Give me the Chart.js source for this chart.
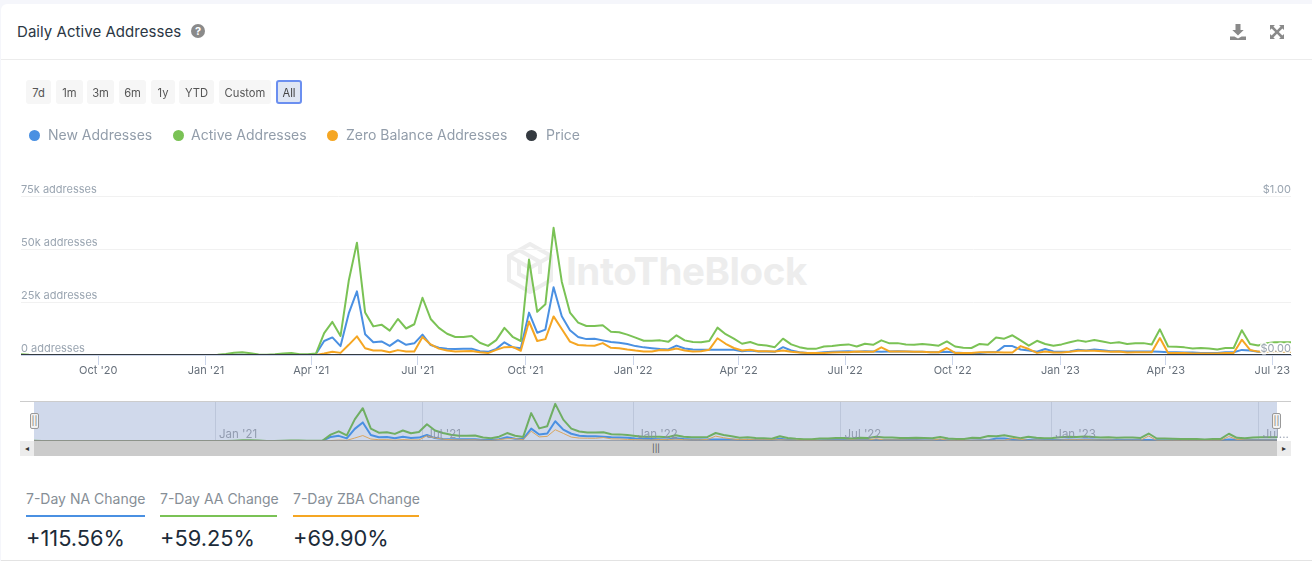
<!DOCTYPE html>
<html>
<head>
<meta charset="utf-8">
<title>Daily Active Addresses</title>
<script src="https://cdn.jsdelivr.net/npm/chart.js@4"></script>
<style>
  html, body { margin: 0; padding: 0; background: #f5f6fb; }
  body { width: 1312px; height: 561px; overflow: hidden; font-family: Inter, "Noto Sans", sans-serif; }
  #card { position: absolute; left: 1px; top: 4px; width: 1311px; height: 556px; background: #fff; border-radius: 6px 0 0 0; border-bottom: 1px solid #e3e3e3; }
  .abs { position: absolute; }
  #title { left: 17px; top: 23px; font-size: 15px; letter-spacing: .05px; color: #2b3744; line-height: 18px; white-space: nowrap; }
  #help { left: 191px; top: 24px; width: 14px; height: 14px; border-radius: 50%; background: #8a8a8a; color: #fff; font-size: 11px; font-weight: 700; line-height: 14px; text-align: center; }
  #rule { left: 1px; top: 59px; width: 1311px; height: 1px; background: #ececec; }
  .range { top: 80px; height: 24px; line-height: 26px; background: #f6f6f6; border-radius: 3px; color: #555; font-size: 11.2px; text-align: center; box-sizing: border-box; }
  .range.on { background: #dfe6f3; border: 2px solid #6b8ff0; line-height: 22px; color: #444; }
  .legend-dot { top: 130px; width: 11px; height: 11px; border-radius: 50%; }
  .legend-text { top: 126px; font-size: 14px; line-height: 18px; color: #929daa; white-space: nowrap; }
  #markText { left: 566px; top: 248px; font-size: 38.5px; font-weight: 700; color: #ededed; line-height: 46px; letter-spacing: -.45px; white-space: nowrap; }
  canvas { position: absolute; }
  #band { left: 34px; top: 402px; width: 1243px; height: 39px; background: #d0d9eb; }
  #navTop { left: 20px; top: 401px; width: 1271px; height: 1px; background: #cccccc; }
  #scrollBar { left: 20px; top: 441px; width: 1271px; height: 15px; background: #cbcbcb; }
  .scrollBtn { top: 441px; width: 14px; height: 15px; background: #ececec; color: #333; font-size: 8px; line-height: 15px; text-align: center; }
  #thumb { left: 650px; top: 441px; width: 12px; height: 15px; color: #444; font-size: 8px; line-height: 15px; text-align: center; }
  .handle { top: 413px; width: 7px; height: 14px; background: #f2f2f2; border: 1px solid #999; border-radius: 2px; color: #777; font-size: 9px; line-height: 13px; text-align: center; }
  .stat-label { top: 490px; font-size: 14px; line-height: 18px; color: #868e96; white-space: nowrap; }
  .stat-rule { top: 515px; height: 2px; }
  .stat-value { top: 524px; font-size: 21.8px; line-height: 28px; color: #1c2b39; white-space: nowrap; }
</style>
</head>
<body>
<div id="card"></div>
<div class="abs" id="title">Daily Active Addresses</div>
<div class="abs" id="help">?</div>
<div class="abs" id="rule"></div>

<svg class="abs" style="left:1229px;top:23px" width="18" height="18" viewBox="0 0 18 18">
  <path fill="#8a8a8a" d="M6.500 1h5v6h3.200L9 12.600 3.300 7h3.200zM1 13.500h4.400L9 15.400l3.600-1.900H17V17H1z"/>
</svg>
<svg class="abs" style="left:1270px;top:25px" width="14" height="14" viewBox="0 0 14 14">
  <path fill="#8a8a8a" d="M0 0h5L3.400 1.600 7 5.200l3.600-3.600L9 0h5v5l-1.600-1.600L8.800 7l3.600 3.600L14 9v5H9l1.600-1.600L7 8.800l-3.600 3.600L5 14H0V9l1.600 1.600L5.200 7 1.600 3.400 0 5z"/>
</svg>

<svg class="abs" style="left:507px;top:242px" width="46" height="52" viewBox="0 0 46 52">
  <g fill="none" stroke="#ededed" stroke-width="4">
    <path d="M23 2 44 14V38L23 50 2 38V14z"/>
    <path d="M2 14 23 26 44 14M23 26V50M12 8 33 20V32M12 20V32L23 38"/>
  </g>
</svg>
<div class="abs" id="markText">IntoTheBlock</div>

<canvas id="mainChart" width="1312" height="385" style="left:0;top:0"></canvas>

<div class="abs" id="band"></div>
<div class="abs" id="navTop"></div>
<canvas id="navChart" width="1258" height="41" style="left:34px;top:401px"></canvas>
<div class="abs" id="scrollBar"></div>
<div class="abs scrollBtn" style="left:20px">&#9666;</div>
<div class="abs scrollBtn" style="left:1277px">&#9656;</div>
<div class="abs" id="thumb">|||</div>
<div class="abs handle" style="left:30px">||</div>
<div class="abs handle" style="left:1272px">||</div>

<script>
// weekly points, values in thousands of addresses
var firstWeek = '2020-07-27';

var newAddresses = [
  0,0,0,0,0,0,0,0,0,0,
  0,0,0,0,0,0,0,0,0,0,
  0,0,0,0,0,0,.1,.1,0,0,
  0,0,0,.1,0,0,.5,6.6,8.3,4.2,
  19.6,30,9.8,6,6.4,4.3,7,4.8,5.5,9.6,
  4.7,3.4,3,2.8,2.9,3,1.8,1.5,2.9,6,
  3.7,3.2,20,10.5,12,32,18.3,11.7,8.5,7.5,
  7.7,6.9,6.1,5.8,5.2,4.2,3.6,3.2,2.8,2.6,
  4.4,3.1,2.6,2.5,2.5,2.5,2.5,2.5,1.8,2.1,
  1.7,1.7,1.5,3.7,2.1,1.3,1,.9,1.3,1.5,
  1.7,1.8,1.5,1.8,1.7,1.5,1.7,1.8,1.7,1.5,
  1.5,1.3,1.3,1.5,1.2,1,1,1,1.3,1.3,
  4.2,4.2,2.6,2.1,1.5,2.8,1.7,1.5,1.7,2.5,
  2.1,2.6,2.3,1.8,1.8,1.7,1.7,1.7,1.7,1.5,
  1.3,1.3,1.2,1.2,1,.9,.9,1.3,1.3,2.4,
  2.1,1.5,1.5,1.5,1.5,1.5
];

var activeAddresses = [
  .3,.1,0,0,0,0,0,0,0,0,
  0,0,0,0,0,0,0,0,0,0,
  0,0,0,0,.1,.5,1.1,1.3,.8,.2,
  .1,.3,.7,1,.4,.3,.7,10.3,15.6,9,
  35,53,20,13.5,14.3,11.5,17,12.5,14.5,27,
  17,12.8,10,8.5,8.5,9,5.8,4.3,7,12.8,
  8.6,6.6,45,20.4,23.9,60,34.6,20,15.3,13.7,
  13.7,14,11,10.7,9.6,8.2,6.7,6.7,6.9,6.2,
  9.3,6.9,6.1,6,6.6,12.9,9.8,7.7,5.3,6.1,
  4.8,4.5,3.7,7.7,5,3.7,2.9,2.9,4,4.2,
  4.7,5,4,5.3,4.8,6.9,5.5,5.6,5,4.8,
  5.2,4.8,4.4,6.4,4,3.4,3.3,5.2,4.8,8.2,
  7.7,9.3,6.9,4.4,6.7,5.2,4.4,5,6,6.9,
  6.3,7.1,6.4,5.6,6,5.2,5.5,5.6,5,12.1,
  4,3.9,3.6,3.1,3.3,3.1,2.6,3.3,3.3,11.7,
  5.2,4.5,5.6,6,6,6
];

var zeroBalanceAddresses = [
  0,0,0,0,0,0,0,0,0,0,
  0,0,0,0,0,0,0,0,0,0,
  0,0,0,0,0,0,0,0,0,0,
  0,0,0,0,0,0,0,.7,1.5,1,
  4.8,8.8,3.2,2.1,2.1,1.3,2.3,1.7,1.7,8.5,
  5,3,2.1,1.7,1.8,1.9,1.3,.9,2.4,3.7,
  3.8,2,15.8,6.6,7.5,18.2,12.3,6.3,4.7,4.5,
  4.4,5.6,3.4,3.2,2.6,2.1,1.7,1.7,2.4,2.2,
  3.1,2.1,1.7,1.8,2.5,7.9,5.3,3.3,2.1,2.5,
  1.8,1.8,1.7,2.1,1.5,1.2,.9,.9,1,1.2,
  1.3,1.3,1.7,1.5,1.5,3.6,1.7,1.7,1.7,1.5,
  1.5,1.3,1.3,3.3,1,.9,.9,1.3,1.3,1.3,
  1.2,1.2,4.2,2.8,1,1.7,1.2,1.2,1.5,2,
  2,2,1.8,1.5,1.7,1.2,1.3,1.3,1.3,8,
  .9,.9,.9,.7,.7,.7,.7,.9,.9,7.2,
  2.4,1.6,1.5,1.5,1.5,1.5
];

var priceValues = [
  0,0,0,0,0,0,0,0,0,0,
  0,0,0,0,0,0,0,0,0,0,
  0,0,0,0,0,0,0,0,0,0,
  0,0,0,0,0,0,0,0,0,0,
  0,0,0,0,0,0,0,0,0,0,
  0,0,0,0,0,0,0,0,0,0,
  0,0,0,0,0,0,0,0,0,0,
  0,0,0,0,0,0,0,0,0,0,
  0,0,0,0,0,0,0,0,0,0,
  0,0,0,0,0,0,0,0,0,0,
  0,0,0,0,0,0,0,0,0,0,
  0,0,0,0,0,0,0,0,0,0,
  0,0,0,0,0,0,0,0,0,0,
  0,0,0,0,0,0,0,0,0,0,
  0,0,0,0,0,0,0,0,0,0,
  0,0,0,0,0,0
];

var leftTicks = [0, 25, 50, 75];
var rightTicks = [0, 1];

var mainTickDates = ['2020-10-01','2021-01-01','2021-04-01','2021-07-01','2021-10-01','2022-01-01',
                     '2022-04-01','2022-07-01','2022-10-01','2023-01-01','2023-04-01','2023-07-01'];
var mainTickLabels = ["Oct '20","Jan '21","Apr '21","Jul '21","Oct '21","Jan '22",
                      "Apr '22","Jul '22","Oct '22","Jan '23","Apr '23","Jul '23"];
var navTickDates = ['2021-01-01','2021-07-01','2022-01-01','2022-07-01','2023-01-01','2023-07-01'];
var navTickLabels = ["Jan '21","Jul '21","Jan '22","Jul '22","Jan '23","Jul..."];

var rangeNames = ['7d','1m','3m','6m','1y','YTD','Custom','All'];
var rangeLefts = [26,56,87,119,151,179,219,276];
var rangeWidths = [25,27,27,27,24,35,52,26];

var seriesNames = ['New Addresses','Active Addresses','Zero Balance Addresses','Price'];
var seriesColors = ['#4a90e2','#7ac255','#f5a623','#343a40'];
var legendDots = [29,172.5,326.5,526];
var legendTexts = [48,191,346,546];

var statNames = ['7-Day NA Change','7-Day AA Change','7-Day ZBA Change'];
var statValues = ['+115.56%','+59.25%','+69.90%'];
var statLefts = [26,160,293];
var statWidths = [119,117,126];

function addBox(className, left, width, text, color) {
    var el = document.createElement('div');
    el.className = 'abs ' + className;
    el.style.left = left + 'px';
    if (width) el.style.width = width + 'px';
    if (color) el.style.background = color;
    if (text) el.textContent = text;
    document.body.appendChild(el);
    return el;
}

rangeNames.forEach(function (name, i) {
    addBox('range' + (name === 'All' ? ' on' : ''), rangeLefts[i], rangeWidths[i], name);
});
seriesNames.forEach(function (name, i) {
    addBox('legend-dot', legendDots[i], 0, '', seriesColors[i]);
    addBox('legend-text', legendTexts[i], 0, name);
});
statNames.forEach(function (name, i) {
    addBox('stat-label', statLefts[i], 0, name);
    addBox('stat-rule', statLefts[i], statWidths[i], '', seriesColors[i]);
    addBox('stat-value', statLefts[i], 0, statValues[i]);
});

var DAY = 86400000;
var startMs = Date.parse(firstWeek);
var endMs = startMs + (newAddresses.length - 1) * 7 * DAY;

function toPoints(values) {
    return values.map(function (v, i) {
        return { x: startMs + i * 7 * DAY, y: v };
    });
}

function xTicks(dates, labels) {
    return {
        values: dates.map(function (d) { return Date.parse(d); }),
        label: function (value) {
            return labels[dates.findIndex(function (d) { return Date.parse(d) === value; })];
        }
    };
}

function lineSet(name, values, color, width, order, axis) {
    return {
        label: name,
        data: toPoints(values),
        borderColor: color,
        borderWidth: width,
        borderJoinStyle: 'round',
        borderCapStyle: 'round',
        pointRadius: 0,
        tension: 0,
        order: order,
        yAxisID: axis
    };
}

var mainX = xTicks(mainTickDates, mainTickLabels);

new Chart(document.getElementById('mainChart').getContext('2d'), {
    type: 'line',
    data: {
        datasets: [
            lineSet(seriesNames[0], newAddresses, seriesColors[0], 2, 3, 'y'),
            lineSet(seriesNames[1], activeAddresses, seriesColors[1], 2, 2, 'y'),
            lineSet(seriesNames[2], zeroBalanceAddresses, seriesColors[2], 2, 1, 'y'),
            lineSet(seriesNames[3], priceValues, seriesColors[3], 2, 0, 'y1')
        ]
    },
    options: {
        responsive: false,
        animation: false,
        layout: { padding: { left: 21, right: 21, top: 196, bottom: 0 } },
        plugins: { legend: { display: false }, tooltip: { enabled: false } },
        scales: {
            x: {
                type: 'linear',
                min: startMs,
                max: endMs,
                afterBuildTicks: function (axis) {
                    axis.ticks = mainX.values.map(function (v) { return { value: v }; });
                },
                afterFit: function (axis) {
                    axis.height = 30;
                    axis.paddingLeft = 0;
                    axis.paddingRight = 0;
                },
                grid: { drawOnChartArea: false, tickLength: 10, tickColor: '#ccd6eb' },
                border: { color: '#ccd6eb' },
                ticks: {
                    autoSkip: false,
                    maxRotation: 0,
                    padding: -1,
                    color: '#666f7a',
                    font: { family: 'Inter', size: 11 },
                    callback: mainX.label
                }
            },
            y: {
                position: 'left',
                min: 0,
                max: 75,
                afterBuildTicks: function (axis) {
                    axis.ticks = leftTicks.map(function (v) { return { value: v }; });
                },
                afterFit: function (axis) { axis.width = 0; },
                grid: { color: '#f1f1f1', drawTicks: false },
                border: { display: false },
                ticks: {
                    mirror: true,
                    padding: 0,
                    labelOffset: -6,
                    color: '#9aa5b1',
                    font: { family: 'Inter', size: 11 },
                    callback: function (v) { return v === 0 ? '0 addresses' : v + 'k addresses'; }
                }
            },
            y1: {
                position: 'right',
                min: 0,
                max: 1,
                afterBuildTicks: function (axis) {
                    axis.ticks = rightTicks.map(function (v) { return { value: v }; });
                },
                afterFit: function (axis) { axis.width = 0; },
                grid: { display: false },
                border: { display: false },
                ticks: {
                    mirror: true,
                    padding: 0,
                    labelOffset: -6,
                    z: 1,
                    color: '#9aa5b1',
                    textStrokeColor: 'rgba(255,255,255,0.9)',
                    textStrokeWidth: 3,
                    font: { family: 'Inter', size: 11 },
                    callback: function (v) { return '$' + v.toFixed(2); }
                }
            }
        }
    }
});

var navX = xTicks(navTickDates, navTickLabels);

new Chart(document.getElementById('navChart').getContext('2d'), {
    type: 'line',
    data: {
        datasets: [
            lineSet(seriesNames[0], newAddresses, '#4a90e2', 2, 3, 'y'),
            lineSet(seriesNames[1], activeAddresses, '#6fae63', 2, 2, 'y'),
            lineSet(seriesNames[2], zeroBalanceAddresses, '#d9a55e', 1, 1, 'y'),
            lineSet(seriesNames[3], priceValues, '#868c98', 1.5, 0, 'y')
        ]
    },
    options: {
        responsive: false,
        animation: false,
        layout: { padding: { left: 0, right: 15, top: 1, bottom: 1 } },
        plugins: { legend: { display: false }, tooltip: { enabled: false } },
        scales: {
            x: {
                type: 'linear',
                min: startMs,
                max: endMs,
                afterBuildTicks: function (axis) {
                    axis.ticks = navX.values.map(function (v) { return { value: v }; });
                },
                afterFit: function (axis) {
                    axis.height = 0;
                    axis.paddingLeft = 0;
                    axis.paddingRight = 0;
                },
                grid: { drawTicks: false, color: '#bcc6da' },
                border: { display: false },
                ticks: {
                    autoSkip: false,
                    maxRotation: 0,
                    align: 'start',
                    mirror: true,
                    labelOffset: 4,
                    padding: 0,
                    z: 1,
                    color: 'rgba(130,140,160,0.8)',
                    font: { family: 'Inter', size: 11.5 },
                    callback: navX.label
                }
            },
            y: {
                display: false,
                min: 0,
                max: 63
            }
        }
    }
});
</script>
</body>
</html>
